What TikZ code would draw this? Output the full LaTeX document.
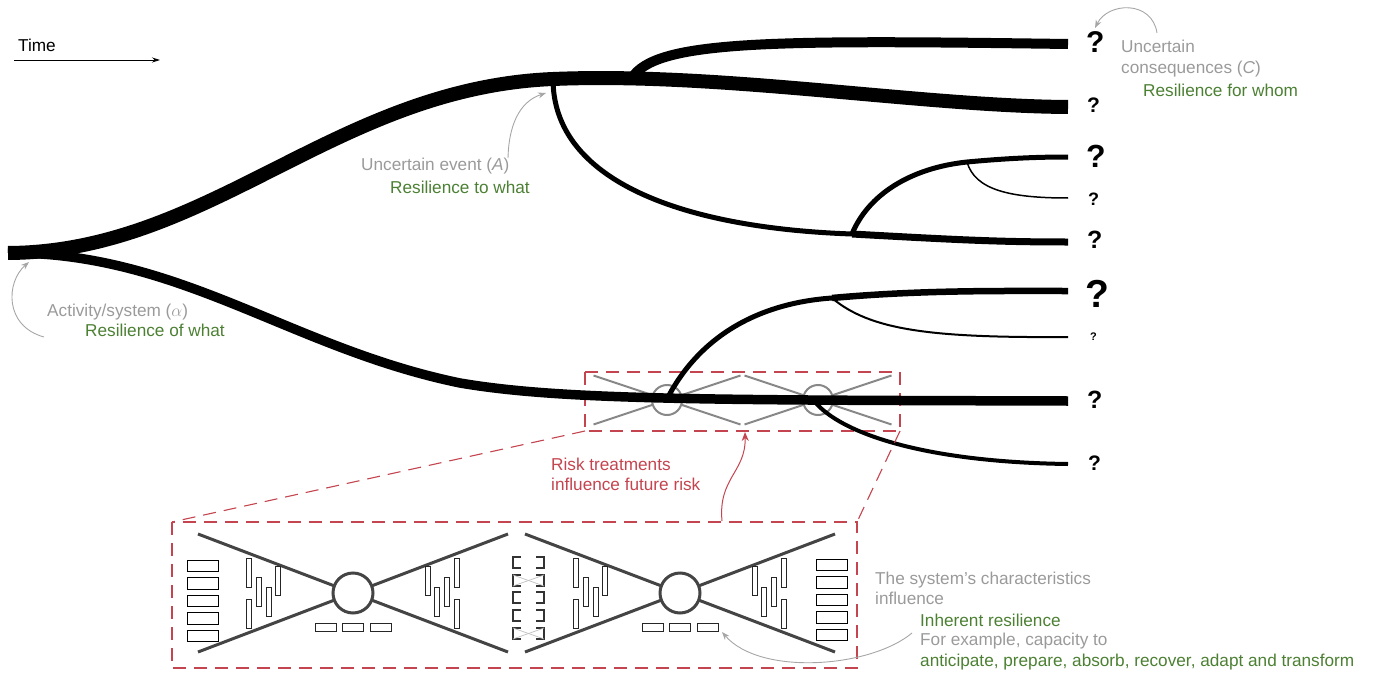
\documentclass[tikz,border=0pt]{standalone}
\usepackage{fontspec}
\setmainfont{Liberation Sans}
\usetikzlibrary{arrows.meta}
\definecolor{txtgray}{HTML}{9A9A9A}
\definecolor{rgreen}{HTML}{4C8033}
\definecolor{rred}{HTML}{C4444F}
\definecolor{bowgray}{HTML}{888888}
\definecolor{bowdark}{HTML}{444444}
\begin{document}
\begin{tikzpicture}[x=1pt,y=-1pt,
  lbl/.style={anchor=base west, inner sep=0pt, font=\fontsize{17.2}{20}\selectfont},
  qm/.style={anchor=base west, inner sep=0pt, font=\fontsize{#1}{#1}\selectfont\bfseries},
  garrow/.style={draw=black!35, line width=0.9pt, -{Stealth[length=8pt,width=6pt]}},
  rarrow/.style={draw=rred, line width=1pt, -{Stealth[length=9pt,width=7pt]}},
  rdash/.style={draw=rred, line width=1.1pt, dash pattern=on 13pt off 8pt},
  br/.style={draw=black, line cap=butt},
  smallx/.style={draw=bowgray, line width=2pt},
  bigx/.style={draw=bowdark, line width=3pt},
  boxr/.style={draw=black!85, line width=0.9pt},
  smallbow/.pic={
    \draw[smallx] (-73.5,-24.5) -- (-14.2,-4.7);
    \draw[smallx] (-73.5,24.5) -- (-14.2,4.7);
    \draw[smallx] (73.5,-24.5) -- (14.2,-4.7);
    \draw[smallx] (73.5,24.5) -- (14.2,4.7);
    \draw[smallx] (0,0) circle[radius=15];
  },
  bigbow/.pic={
    \draw[bigx] (-155,-59) -- (155,59);
    \draw[bigx] (-155,59) -- (155,-59);
    \draw[bigx, fill=white] (0,0) circle[radius=20];
    \foreach \bx/\by in {-104/-20.5,-104/21,-94/-1,-84/9,-75/-12}{
      \draw[boxr] (\bx-2.3,\by-14.5) rectangle (\bx+2.3,\by+14.5);
      \draw[boxr] (-\bx-2.3,\by-14.5) rectangle (-\bx+2.3,\by+14.5);
    }
    \foreach \sx in {-27.5,0,27.5}{
      \draw[boxr] (\sx-10.5,30) rectangle (\sx+10.5,38);
    }
  }
]
\useasboundingbox (0,0) rectangle (1375,674);

% ---------- Time arrow ----------
\node[lbl] (time) at (18,52) {Time};
\coordinate (t0) at (14,60);
\coordinate (t1) at (160,60);
\draw[line width=0.8pt, -{Stealth[length=8pt,width=5pt]}] (t0) -- (t1);

% ---------- middle dashed box (gray bow-ties) ----------
\pic at (667,400) {smallbow};
\pic at (818,400) {smallbow};
\coordinate (m1) at (585,372);
\coordinate (m2) at (900,431);
\draw[rdash] (m1) rectangle (m2);

% ---------- tree ----------
\coordinate (root) at (8,253);
\coordinate (A) at (553,79);
\coordinate (B) at (634,75);
\coordinate (C) at (852,234);
\coordinate (D) at (967,162);
\coordinate (E) at (667,399);
\coordinate (F) at (832,298);
\coordinate (G) at (815,402);
\coordinate (e1) at (1068,44);
\coordinate (e2) at (1068,107);
\coordinate (e3) at (1068,157);
\coordinate (e4) at (1068,198);
\coordinate (e5) at (1068,242);
\coordinate (e6) at (1068,291);
\coordinate (e7) at (1068,337);
\coordinate (e8) at (1068,401);
\coordinate (e9) at (1068,464);
\coordinate (L1) at (460,383);

\draw[br, line width=14pt] (root) .. controls (210,252) and (335,88) .. (A)
   .. controls (720,72) and (920,106) .. (e2);
\draw[br, line width=10pt] (B) .. controls (662,40) and (780,40) .. (e1);
\draw[br, line width=5pt] (A) .. controls (553,180) and (680,228) .. (C);
\draw[br, line width=7pt] (C) .. controls (960,240) and (1000,242) .. (e5);
\draw[br, line width=5pt] (C) .. controls (868,195) and (910,168) .. (D)
   .. controls (1010,158) and (1040,157) .. (e3);
\draw[br, line width=1.5pt] (D) .. controls (975,190) and (1010,198) .. (e4);

\draw[br, line width=9.5pt] (root) .. controls (180,252) and (290,348) .. (L1)
   .. controls (560,400) and (700,400) .. (e8);
\draw[br, line width=5pt] (E) .. controls (700,335) and (760,303) .. (F);
\draw[br, line width=6.5pt] (F) .. controls (920,290) and (1000,291) .. (e6);
\draw[br, line width=2pt] (F) .. controls (870,330) and (930,338) .. (e7);
\draw[br, line width=4pt] (G) .. controls (840,432) and (920,462) .. (e9);

% ---------- question marks ----------
\node[qm=30] (q1) at (1086,53) {?};
\node[qm=21] (q2) at (1087,113) {?};
\node[qm=32] (q3) at (1086,167) {?};
\node[qm=18] (q4) at (1088,205) {?};
\node[qm=25] (q5) at (1087,248) {?};
\node[qm=39] (q6) at (1085,307) {?};
\node[qm=11] (q7) at (1090,340) {?};
\node[qm=25] (q8) at (1087,408) {?};
\node[qm=21] (q9) at (1088,470) {?};

% ---------- labels ----------
\node[lbl, text=txtgray] (cons1) at (1121,53) {Uncertain};
\node[lbl, text=txtgray] (cons2) at (1121,74) {consequences (\textit{C})};
\node[lbl, text=rgreen] (cons3) at (1143,97) {Resilience for whom};
\coordinate (ca) at (1157,33);
\coordinate (cb) at (1095,28);
\draw[garrow] (ca) .. controls (1152,0) and (1108,2) .. (cb);

\node[lbl, text=txtgray] (ev1) at (361,170) {Uncertain event (\textit{A})};
\node[lbl, text=rgreen] (ev2) at (390,193) {Resilience to what};
\coordinate (ea) at (508,158);
\coordinate (eb) at (546,93);
\draw[garrow] (ea) .. controls (509,118) and (524,100) .. (eb);

\node[lbl, text=txtgray] (ac1) at (47,316) {Activity/system ($\alpha$)};
\node[lbl, text=rgreen] (ac2) at (85,336) {Resilience of what};
\coordinate (aa) at (44,337);
\coordinate (ab) at (29,262);
\draw[garrow] (aa) .. controls (4,326) and (6,282) .. (ab);

\node[lbl, text=rred] (rk1) at (551,470) {Risk treatments};
\node[lbl, text=rred] (rk2) at (551,490) {influence future risk};

% ---------- bottom dashed box ----------
\coordinate (b1) at (172,522);
\coordinate (b2) at (857,668);
\draw[rdash] (b1) rectangle (b2);
\draw[rdash] (585,431) -- (b1);
\draw[rdash] (900,431) -- (857,522);
\coordinate (ra) at (722,521);
\coordinate (rb) at (745,432);
\draw[rarrow] (ra) .. controls (718,478) and (746,472) .. (rb);

\pic at (353,593) {bigbow};
\pic at (680,593) {bigbow};

% side columns
\foreach \i in {0,...,4}{
  \draw[black, line width=1pt] (187,560+17.6*\i) rectangle (218,571.5+17.6*\i);
  \draw[black, line width=1pt] (816,559+17.6*\i) rectangle (847,570.5+17.6*\i);
}
% middle bracket column
\foreach \yy in {557,575,592,610,628}{
  \draw[black!80, line width=1.1pt] (521,\yy) -- (513,\yy) -- (513,\yy+11) -- (521,\yy+11);
  \draw[black!80, line width=1.1pt] (536,\yy) -- (544,\yy) -- (544,\yy+11) -- (536,\yy+11);
}
\foreach \yy in {575,628}{
  \draw[black!25, line width=0.7pt] (513,\yy) -- (544,\yy+11);
  \draw[black!25, line width=0.7pt] (513,\yy+11) -- (544,\yy);
}

\node[lbl, text=txtgray] (sc1) at (875,584) {The system’s characteristics};
\node[lbl, text=txtgray] (sc2) at (875,604) {influence};
\node[lbl, text=rgreen] (ir1) at (920,626) {Inherent resilience};
\node[lbl, text=txtgray] (ir2) at (920,645) {For example, capacity to};
\node[lbl, text=rgreen] (ir3) at (920,666) {anticipate, prepare, absorb, recover, adapt and transform};
\coordinate (ia) at (912,633);
\coordinate (ib) at (722,632);
\draw[garrow] (ia) .. controls (870,668) and (760,676) .. (ib);
\end{tikzpicture}
\end{document}
